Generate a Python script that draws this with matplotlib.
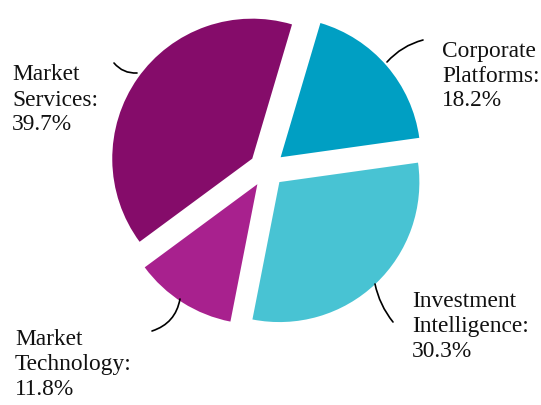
import matplotlib
matplotlib.use('Agg')
import matplotlib.pyplot as plt

segments = ['Corporate\nPlatforms', 'Investment\nIntelligence', 'Market\nTechnology', 'Market\nServices']
shares = [18.2, 30.3, 11.8, 39.7]
colors = ['#009fc3', '#48c3d3', '#a8218e', '#850c6a']

W, H = 541, 406
fig = plt.figure(figsize=(W / 100, H / 100), dpi=100)
ax = fig.add_axes([0, 0, 1, 1])
ax.set_xlim(0, W)
ax.set_ylim(0, H)
ax.set_aspect('equal')
ax.axis('off')

# explode is in data units here (axes are in pixels)
ax.pie(shares, colors=colors, startangle=73.5, counterclock=False,
       explode=[18] * len(shares), radius=140, center=(267, H - 170),
       wedgeprops=dict(linewidth=0))
ax.set_xlim(0, W)
ax.set_ylim(0, H)

font = dict(family='Liberation Serif', fontsize=16.8, linespacing=1.25)

# label text position (image px, y from top), leader start, leader end, curvature
labels = [
    ((442, 76), (387, 63), (423, 41), -0.15),
    ((412, 327), (375, 285), (393, 323), 0.12),
    ((15, 365), (180, 300), (152, 332), -0.3),
    ((12, 100), (137, 74), (114, 64), -0.25),
]

for name, val, (pos, p0, p1, rad) in zip(segments, shares, labels):
    ax.text(pos[0], H - pos[1], f'{name}:\n{val:.1f}%', ha='left', va='center',
            color='#111111', **font)
    ax.annotate('', xy=(p1[0], H - p1[1]), xytext=(p0[0], H - p0[1]),
                arrowprops=dict(arrowstyle='-', color='black', lw=1.2,
                                connectionstyle=f'arc3,rad={rad}',
                                shrinkA=0, shrinkB=0))

fig.savefig('out.png', dpi=100, facecolor='white')
